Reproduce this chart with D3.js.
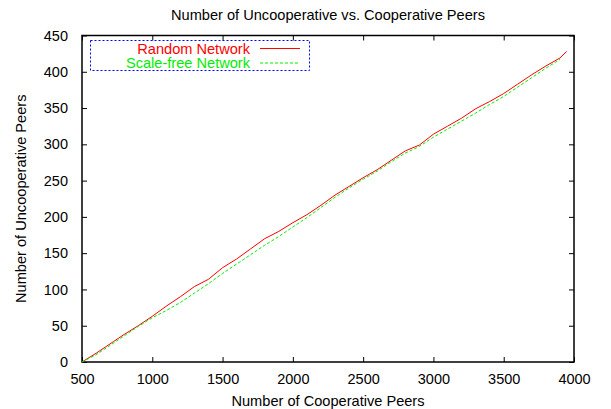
<!DOCTYPE html>
<html>
<head>
<meta charset="utf-8">
<script src="https://cdn.jsdelivr.net/npm/d3@7"></script>
<style>
  body { margin: 0; background: #fff; }
  text { font-family: "Liberation Sans", Arial, sans-serif; fill: #000; }
</style>
</head>
<body>
<div id="chart"></div>
<script>
// cooperative peers (x) vs uncooperative peers (y)
const randomX = [500, 600, 723, 800, 900, 1000, 1100, 1200, 1300, 1400, 1500, 1600, 1700, 1800, 1900, 2000,
  2100, 2200, 2300, 2400, 2500, 2600, 2700, 2800, 2900, 3000, 3100, 3200, 3300, 3400, 3500, 3600, 3700, 3800, 3900, 3947];
const randomY = [0, 12, 28, 38, 50, 63, 77, 90, 104, 114, 130, 142, 156, 170, 180, 192,
  203, 216, 230, 242, 254, 265, 278, 291, 299, 314, 325, 336, 349, 359, 370, 383, 396, 408, 419, 428];

const scaleFreeX = [500, 600, 723, 800, 900, 1000, 1100, 1200, 1300, 1400, 1500, 1600, 1700, 1800, 1900, 2000,
  2100, 2200, 2300, 2400, 2500, 2600, 2700, 2800, 2900, 3000, 3100, 3200, 3300, 3400, 3500, 3600, 3700, 3800, 3900];
const scaleFreeY = [0, 10, 26, 36, 49, 61, 71, 82, 95, 108, 122, 135, 148, 161, 173, 186,
  199, 213, 227, 240, 252, 263, 276, 288, 297, 310, 321, 332, 343, 355, 366, 379, 392, 405, 417];

const xTicks = [500, 1000, 1500, 2000, 2500, 3000, 3500, 4000];
const yTicks = [0, 50, 100, 150, 200, 250, 300, 350, 400, 450];

const series = [
  { name: 'Random Network', xs: randomX, ys: randomY, color: '#ff0000', dash: null },
  { name: 'Scale-free Network', xs: scaleFreeX, ys: scaleFreeY, color: '#00ee00', dash: '3,2' },
];

const width = 611;
const height = 409;
const margin = { top: 35.5, right: 37, bottom: 47, left: 82 };
const fontSize = 14.6;

const svg = d3.select('#chart').append('svg')
  .attr('width', width)
  .attr('height', height);

const x = d3.scaleLinear().domain([500, 4000]).range([margin.left, width - margin.right]);
const y = d3.scaleLinear().domain([0, 450]).range([height - margin.bottom, margin.top]);

const tickLen = 5;

// axes: inward ticks, mirrored on top and right like gnuplot
function styleAxis(g) {
  g.select('.domain').remove();
  g.selectAll('.tick line').attr('stroke', '#000');
  g.selectAll('.tick text').attr('font-size', 14.5).attr('font-family', '"Liberation Sans", Arial, sans-serif');
}

svg.append('g')
  .attr('transform', `translate(0,${y(0)})`)
  .call(d3.axisBottom(x).tickValues(xTicks).tickFormat(d3.format('d')).tickSizeInner(-tickLen).tickPadding(12))
  .call(styleAxis);

svg.append('g')
  .attr('transform', `translate(0,${y(450)})`)
  .call(d3.axisTop(x).tickValues(xTicks).tickFormat('').tickSizeInner(-tickLen))
  .call(styleAxis);

svg.append('g')
  .attr('transform', `translate(${x(500)},0)`)
  .call(d3.axisLeft(y).tickValues(yTicks).tickFormat(d3.format('d')).tickSizeInner(-tickLen).tickPadding(14))
  .call(styleAxis);

svg.append('g')
  .attr('transform', `translate(${x(4000)},0)`)
  .call(d3.axisRight(y).tickValues(yTicks).tickFormat('').tickSizeInner(-tickLen))
  .call(styleAxis);

// plot border
svg.append('rect')
  .attr('x', x(500))
  .attr('y', y(450))
  .attr('width', x(4000) - x(500))
  .attr('height', y(0) - y(450))
  .attr('fill', 'none')
  .attr('stroke', '#000')
  .attr('stroke-width', 1.5);

const line = d3.line()
  .x((d) => x(d[0]))
  .y((d) => y(d[1]));

series.forEach((s) => {
  svg.append('path')
    .datum(d3.zip(s.xs, s.ys))
    .attr('d', line)
    .attr('fill', 'none')
    .attr('stroke', s.color)
    .attr('stroke-width', 1)
    .attr('stroke-dasharray', s.dash);
});

// legend
svg.append('rect')
  .attr('x', 90.5)
  .attr('y', 40.5)
  .attr('width', 219)
  .attr('height', 30)
  .attr('fill', 'none')
  .attr('stroke', '#0000ff')
  .attr('stroke-dasharray', '2,2');

series.forEach((s, i) => {
  const ly = 48.5 + i * 14.5;
  svg.append('text')
    .attr('x', 250)
    .attr('y', ly)
    .attr('dy', '0.35em')
    .attr('text-anchor', 'end')
    .attr('font-size', fontSize)
    .style('fill', s.color)
    .text(s.name);
  svg.append('line')
    .attr('x1', 260).attr('x2', 300)
    .attr('y1', ly).attr('y2', ly)
    .attr('stroke', s.color)
    .attr('stroke-dasharray', s.dash);
});

// titles
const midX = (x(500) + x(4000)) / 2;

svg.append('text')
  .attr('x', midX)
  .attr('y', 19.5)
  .attr('text-anchor', 'middle')
  .attr('font-size', fontSize)
  .text('Number of Uncooperative vs. Cooperative Peers');

svg.append('text')
  .attr('x', midX)
  .attr('y', 405.5)
  .attr('text-anchor', 'middle')
  .attr('font-size', fontSize)
  .text('Number of Cooperative Peers');

svg.append('text')
  .attr('transform', `translate(26,${y(225)}) rotate(-90)`)
  .attr('text-anchor', 'middle')
  .attr('font-size', fontSize)
  .text('Number of Uncooperative Peers');
</script>
</body>
</html>
